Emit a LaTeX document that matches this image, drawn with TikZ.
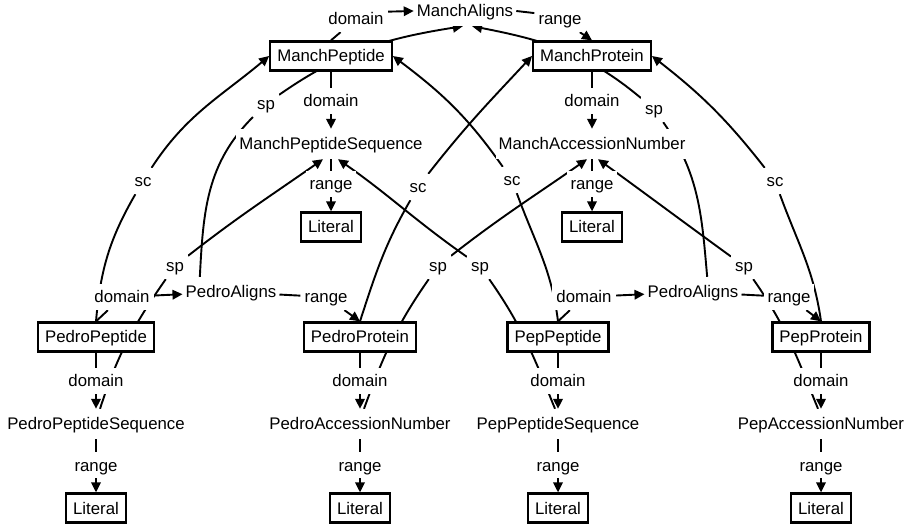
\documentclass[tikz,border=0pt]{standalone}
\usepackage{fontspec}
\setmainfont{Liberation Sans}
\usetikzlibrary{arrows.meta,backgrounds}

\def\fsz{\fontsize{16.8}{20}\selectfont}
\tikzstyle{cls}=[draw,rectangle,line width=2.3pt,fill=white,font=\fsz,
                 inner xsep=7pt,inner ysep=0pt,minimum height=29pt,
                 text height=14pt,text depth=2pt]
\tikzstyle{prop}=[fill=white,font=\fsz,inner xsep=3pt,inner ysep=7pt,
                  text height=14pt,text depth=2pt]
\tikzstyle{lbl}=[fill=white,font=\fsz,inner xsep=4pt,inner ysep=5pt,
                 text height=14pt,text depth=2pt]
\tikzstyle{link}=[line width=1.9pt]
\tikzstyle{arr}=[line width=1.9pt,-{Triangle[length=10pt,width=9.5pt]}]

\begin{document}
\begin{tikzpicture}[x=1pt,y=1pt]
  \useasboundingbox (0,0) rectangle (905,-526);

  % Manch ontology
  \node[prop] (manchaligns) at (465,-11) {ManchAligns};
  \node[lbl] (manchaligns-d) at (356,-19) {domain};
  \node[lbl] (manchaligns-r) at (560,-19) {range};
  \node[cls] (manchpep) at (331,-56) {ManchPeptide};
  \node[cls] (manchprot) at (592,-56) {ManchProtein};

  \node[lbl] (manchpep-d) at (331,-101) {domain};
  \node[prop] (manchpepseq) at (331,-144) {ManchPeptideSequence};
  \node[lbl] (manchpepseq-r) at (331,-184) {range};
  \node[cls] (manchlit1) at (331,-227) {Literal};

  \node[lbl] (manchprot-d) at (592,-101) {domain};
  \node[prop] (manchacc) at (592,-144) {ManchAccessionNumber};
  \node[lbl] (manchacc-r) at (592,-184) {range};
  \node[cls] (manchlit2) at (592,-227) {Literal};

  % Pedro ontology
  \node[cls] (pedropep) at (96,-337) {PedroPeptide};
  \node[cls] (pedroprot) at (360,-337) {PedroProtein};
  \node[prop] (pedroaligns) at (231,-292) {PedroAligns};
  \node[lbl] (pedroaligns-d) at (122,-297) {domain};
  \node[lbl] (pedroaligns-r) at (326,-297) {range};

  \node[lbl] (pedropep-d) at (96,-381) {domain};
  \node[prop] (pedropepseq) at (96,-424) {PedroPeptideSequence};
  \node[lbl] (pedropepseq-r) at (96,-465) {range};
  \node[cls] (pedrolit1) at (96,-508) {Literal};

  \node[lbl] (pedroprot-d) at (360,-381) {domain};
  \node[prop] (pedroacc) at (360,-424) {PedroAccessionNumber};
  \node[lbl] (pedroacc-r) at (360,-465) {range};
  \node[cls] (pedrolit2) at (360,-508) {Literal};

  \node[lbl] (pedropep-sc) at (143,-181) {sc};
  \node[lbl] (pedroprot-sc) at (418,-187) {sc};
  \node[lbl] (pedroaligns-sp) at (266,-104) {sp};
  \node[lbl] (pedropepseq-sp) at (175,-266) {sp};
  \node[lbl] (pedroacc-sp) at (438,-266) {sp};

  % Pep ontology
  \node[cls] (peppep) at (558,-337) {PepPeptide};
  \node[cls] (pepprot) at (821,-337) {PepProtein};
  \node[prop] (pepaligns) at (693,-292) {PedroAligns};
  \node[lbl] (pepaligns-d) at (584,-297) {domain};
  \node[lbl] (pepaligns-r) at (789,-297) {range};

  \node[lbl] (peppep-d) at (558,-381) {domain};
  \node[prop] (peppepseq) at (558,-424) {PepPeptideSequence};
  \node[lbl] (peppepseq-r) at (558,-465) {range};
  \node[cls] (peplit1) at (558,-508) {Literal};

  \node[lbl] (pepprot-d) at (821,-381) {domain};
  \node[prop] (pepacc) at (821,-424) {PepAccessionNumber};
  \node[lbl] (pepacc-r) at (821,-465) {range};
  \node[cls] (peplit2) at (821,-508) {Literal};

  \node[lbl] (peppep-sc) at (512,-180) {sc};
  \node[lbl] (pepprot-sc) at (775,-181) {sc};
  \node[lbl] (pepaligns-sp) at (654,-109) {sp};
  \node[lbl] (peppepseq-sp) at (480,-266) {sp};
  \node[lbl] (pepacc-sp) at (744,-266) {sp};

  \begin{pgfonlayer}{background}
  % domain and range chains
  \path (manchpep.north) edge[link] (manchaligns-d)
        (manchaligns-d.13) edge[arr] (manchaligns.west)
        (manchaligns.east) edge[link] (manchaligns-r.167)
        (manchaligns-r) edge[arr] (manchprot.north);
  \path (manchpep) edge[link] (manchpep-d)
        (manchpep-d) edge[arr] (manchpepseq)
        (manchpepseq) edge[link] (manchpepseq-r)
        (manchpepseq-r) edge[arr] (manchlit1);
  \path (manchprot) edge[link] (manchprot-d)
        (manchprot-d) edge[arr] (manchacc)
        (manchacc) edge[link] (manchacc-r)
        (manchacc-r) edge[arr] (manchlit2);

  \path (pedropep.north) edge[link] (pedroaligns-d)
        (pedroaligns-d) edge[arr] (pedroaligns)
        (pedroaligns) edge[link] (pedroaligns-r)
        (pedroaligns-r) edge[arr] (pedroprot.north);
  \path (pedropep) edge[link] (pedropep-d)
        (pedropep-d) edge[arr] (pedropepseq)
        (pedropepseq) edge[link] (pedropepseq-r)
        (pedropepseq-r) edge[arr] (pedrolit1);
  \path (pedroprot) edge[link] (pedroprot-d)
        (pedroprot-d) edge[arr] (pedroacc)
        (pedroacc) edge[link] (pedroacc-r)
        (pedroacc-r) edge[arr] (pedrolit2);

  \path (peppep.north) edge[link] (pepaligns-d)
        (pepaligns-d) edge[arr] (pepaligns)
        (pepaligns) edge[link] (pepaligns-r)
        (pepaligns-r) edge[arr] (pepprot.north);
  \path (peppep) edge[link] (peppep-d)
        (peppep-d) edge[arr] (peppepseq)
        (peppepseq) edge[link] (peppepseq-r)
        (peppepseq-r) edge[arr] (peplit1);
  \path (pepprot) edge[link] (pepprot-d)
        (pepprot-d) edge[arr] (pepacc)
        (pepacc) edge[link] (pepacc-r)
        (pepacc-r) edge[arr] (peplit2);

  % subclass edges
  \path (pedropep.north) edge[link,out=85,in=240] (pedropep-sc)
        (pedropep-sc) edge[arr,out=57,in=220] (manchpep.west);
  \path (pedroprot.north) edge[link,out=72,in=240] (pedroprot-sc)
        (pedroprot-sc) edge[arr,out=52,in=227] (manchprot.west);
  \path (peppep.north) edge[link,out=97,in=-70] (peppep-sc)
        (peppep-sc) edge[arr,out=125,in=-37] (manchpep.east);
  \path (pepprot.north) edge[link,out=98,in=-70] (pepprot-sc)
        (pepprot-sc) edge[arr,out=128,in=-38] (manchprot.east);

  % subproperty edges
  \path (pedroaligns.154) edge[link,out=87,in=225] (pedroaligns-sp)
        (pedroaligns-sp) edge[arr,out=35,in=189] (manchaligns.-98);
  \path (pepaligns.47) edge[link,out=95,in=-55] (pepaligns-sp)
        (pepaligns-sp) edge[arr,out=140,in=-11] (manchaligns.-65);
  \path ([xshift=4pt]pedropepseq.north) edge[link,out=72,in=235] (pedropepseq-sp)
        (pedropepseq-sp) edge[arr,out=38,in=215] ([xshift=-8pt]manchpepseq.south);
  \path ([xshift=4pt]pedroacc.north) edge[link,out=70,in=235] (pedroacc-sp)
        (pedroacc-sp) edge[arr,out=38,in=215] ([xshift=-5pt]manchacc.south);
  \path ([xshift=-3pt]peppepseq.north) edge[link,out=112,in=-55] (peppepseq-sp)
        (peppepseq-sp) edge[arr,out=145,in=-35] ([xshift=7pt]manchpepseq.south);
  \path ([xshift=-3pt]pepacc.north) edge[link,out=112,in=-55] (pepacc-sp)
        (pepacc-sp) edge[arr,out=144,in=-36] ([xshift=6pt]manchacc.south);
  \end{pgfonlayer}
\end{tikzpicture}
\end{document}
